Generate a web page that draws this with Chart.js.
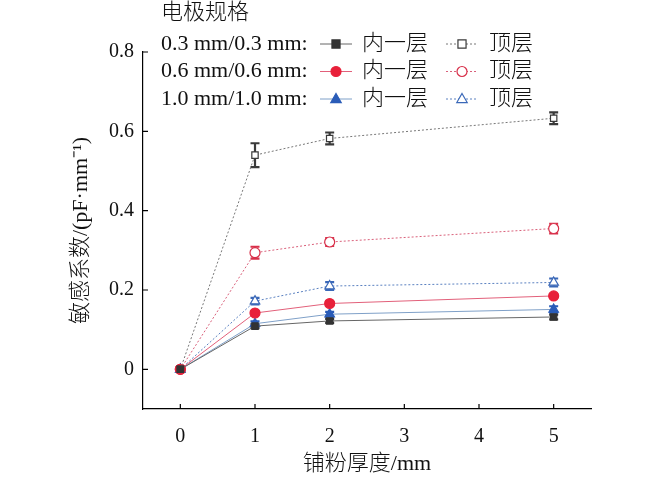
<!DOCTYPE html>
<html>
<head>
<meta charset="utf-8">
<script src="https://cdn.jsdelivr.net/npm/chart.js@4/dist/chart.umd.min.js"></script>
<style>
  body { margin: 0; background: #fff; }
  #wrap { width: 650px; height: 480px; }
</style>
</head>
<body>
<div id="wrap"><canvas id="chart"></canvas></div>
<script>
// data
var thickness = [0, 1, 2, 5];
var inner03 = [0, 0.109, 0.122, 0.132];
var top03   = [0, 0.540, 0.582, 0.633];
var inner06 = [0, 0.142, 0.166, 0.185];
var top06   = [0, 0.294, 0.321, 0.355];
var inner10 = [0, 0.115, 0.139, 0.151];
var top10   = [0, 0.172, 0.210, 0.219];
// error bar half widths
var inner03Err = [0.004, 0.005, 0.005, 0.006];
var top03Err   = [0.004, 0.030, 0.015, 0.015];
var inner06Err = [0.004, 0.004, 0.004, 0.004];
var top06Err   = [0.004, 0.015, 0.010, 0.012];
var inner10Err = [0.004, 0.006, 0.006, 0.008];
var top10Err   = [0.004, 0.008, 0.010, 0.010];

var xTicks = [0, 1, 2, 3, 4, 5];
var yTicks = [0, 0.2, 0.4, 0.6, 0.8];
var legendTitle = '电极规格';
var specLabels = ['0.3 mm/0.3 mm:', '0.6 mm/0.6 mm:', '1.0 mm/1.0 mm:'];
var layerLabels = ['内一层', '顶层'];

var FONT = '"Liberation Serif", "Noto Sans CJK SC", serif';

function pts(ys) {
    return ys.map(function (y, i) { return { x: thickness[i], y: y }; });
}

function series(label, ys, err, line, mark, style, filled, dotted, r) {
    return {
        label: label,
        data: pts(ys),
        err: err,
        borderColor: line,
        borderWidth: 1,
        borderDash: dotted ? [2, 2] : [],
        pointStyle: style,
        pointRadius: r,
        pointBorderWidth: 1.2,
        pointBorderColor: mark,
        pointBackgroundColor: filled ? mark : '#fff',
        markColor: mark,
        filled: filled,
        tension: 0,
        fill: false
    };
}

var datasets = [
    series('0.3 内一层', inner03, inner03Err, '#666666', '#333333', 'rect', true, false, 4.5),
    series('0.3 顶层', top03, top03Err, '#777777', '#3a3a3a', 'rect', false, true, 4.5),
    series('0.6 内一层', inner06, inner06Err, '#e2607a', '#e8203a', 'circle', true, false, 5),
    series('0.6 顶层', top06, top06Err, '#d9607a', '#d8304a', 'circle', false, true, 5),
    series('1.0 内一层', inner10, inner10Err, '#7fa0c8', '#2a5cb8', 'triangle', true, false, 5.5),
    series('1.0 顶层', top10, top10Err, '#5a80c0', '#3a68b8', 'triangle', false, true, 5.5)
];

function drawMark(ctx, ds, x, y) {
    var r = ds.pointRadius;
    ctx.save();
    ctx.lineWidth = ds.pointBorderWidth;
    ctx.strokeStyle = ds.markColor;
    ctx.fillStyle = ds.filled ? ds.markColor : '#fff';
    ctx.setLineDash([]);
    ctx.beginPath();
    if (ds.pointStyle === 'rect') {
        ctx.rect(x - r * 0.9, y - r * 0.9, r * 1.8, r * 1.8);
    } else if (ds.pointStyle === 'circle') {
        ctx.arc(x, y, r, 0, Math.PI * 2);
    } else {
        ctx.moveTo(x, y - r);
        ctx.lineTo(x + r * 0.95, y + r * 0.65);
        ctx.lineTo(x - r * 0.95, y + r * 0.65);
        ctx.closePath();
    }
    ctx.fill();
    ctx.stroke();
    ctx.restore();
}

var errorBars = {
    id: 'errorBars',
    beforeDatasetsDraw: function (chart) {
        var ctx = chart.ctx, xs = chart.scales.x, ys = chart.scales.y;
        chart.data.datasets.forEach(function (ds) {
            ctx.save();
            ctx.strokeStyle = ds.markColor;
            ctx.lineWidth = 2.2;
            ds.data.forEach(function (p, i) {
                var e = ds.err[i];
                var px = xs.getPixelForValue(p.x);
                var y1 = ys.getPixelForValue(p.y + e);
                var y2 = ys.getPixelForValue(p.y - e);
                ctx.beginPath();
                ctx.moveTo(px, y1); ctx.lineTo(px, y2);
                ctx.moveTo(px - 4.5, y1); ctx.lineTo(px + 4.5, y1);
                ctx.moveTo(px - 4.5, y2); ctx.lineTo(px + 4.5, y2);
                ctx.stroke();
            });
            ctx.restore();
        });
    }
};

var innerTicks = {
    id: 'innerTicks',
    afterDraw: function (chart) {
        var ctx = chart.ctx, xs = chart.scales.x, ys = chart.scales.y;
        var a = chart.chartArea;
        ctx.save();
        ctx.strokeStyle = '#000';
        ctx.lineWidth = 1.2;
        ctx.beginPath();
        xTicks.forEach(function (v) {
            var px = xs.getPixelForValue(v);
            ctx.moveTo(px, a.bottom); ctx.lineTo(px, a.bottom - 5);
        });
        yTicks.forEach(function (v) {
            var py = ys.getPixelForValue(v);
            ctx.moveTo(a.left, py); ctx.lineTo(a.left + 5, py);
        });
        ctx.stroke();
        ctx.restore();
    }
};

var specLegend = {
    id: 'specLegend',
    afterDraw: function (chart) {
        var ctx = chart.ctx;
        var dsets = chart.data.datasets;
        ctx.save();
        ctx.font = '300 22px ' + FONT;
        ctx.fillStyle = '#111';
        ctx.textBaseline = 'middle';
        ctx.textAlign = 'left';
        ctx.fillText(legendTitle, 161, 13);
        specLabels.forEach(function (lab, i) {
            var y = 44 + i * 27.5;
            ctx.fillStyle = '#111';
            ctx.fillText(lab, 161, y);
            [0, 1].forEach(function (k) {
                var ds = dsets[i * 2 + k];
                var cx = k === 0 ? 336 : 462;
                ctx.save();
                ctx.strokeStyle = ds.borderColor;
                ctx.lineWidth = 1;
                ctx.setLineDash(ds.borderDash);
                ctx.beginPath();
                ctx.moveTo(cx - 16, y); ctx.lineTo(cx + 16, y);
                ctx.stroke();
                ctx.restore();
                drawMark(ctx, ds, cx, y);
                ctx.fillStyle = '#111';
                ctx.fillText(layerLabels[k], k === 0 ? 362 : 489, y);
            });
        });
        ctx.restore();
    }
};

Chart.defaults.font.family = FONT;
Chart.defaults.font.size = 20;
Chart.defaults.color = '#111';

new Chart(document.getElementById('chart'), {
    type: 'line',
    data: { datasets: datasets },
    options: {
        responsive: true,
        maintainAspectRatio: false,
        animation: false,
        layout: { padding: { top: 52, right: 59, left: 0, bottom: 0 } },
        plugins: { legend: { display: false }, tooltip: { enabled: false } },
        scales: {
            x: {
                type: 'linear',
                min: -0.5,
                max: 5.5,
                afterBuildTicks: function (s) { s.ticks = xTicks.map(function (v) { return { value: v }; }); },
                afterFit: function (s) { s.height = 71; },
                grid: { display: true, drawOnChartArea: false, drawTicks: false },
                border: { display: true, color: '#000', width: 1.2 },
                ticks: { padding: 16, maxRotation: 0 },
                title: { display: true, text: '铺粉厚度/mm', font: { size: 22, weight: '300' }, padding: { top: 0, bottom: 3 } }
            },
            y: {
                type: 'linear',
                min: -0.1,
                max: 0.8,
                afterBuildTicks: function (s) { s.ticks = yTicks.map(function (v) { return { value: v }; }); },
                afterFit: function (s) { s.width = 143; },
                grid: { display: true, drawOnChartArea: false, drawTicks: false },
                border: { display: true, color: '#000', width: 1.2 },
                ticks: {
                    padding: 9,
                    callback: function (v) { return v === 0 ? '0' : v.toFixed(1); }
                },
                title: { display: true, text: '敏感系数/(pF·mm⁻¹)', font: { size: 22, weight: '300' }, padding: { top: 68, bottom: 0 } }
            }
        }
    },
    plugins: [errorBars, innerTicks, specLegend]
});
</script>
</body>
</html>
